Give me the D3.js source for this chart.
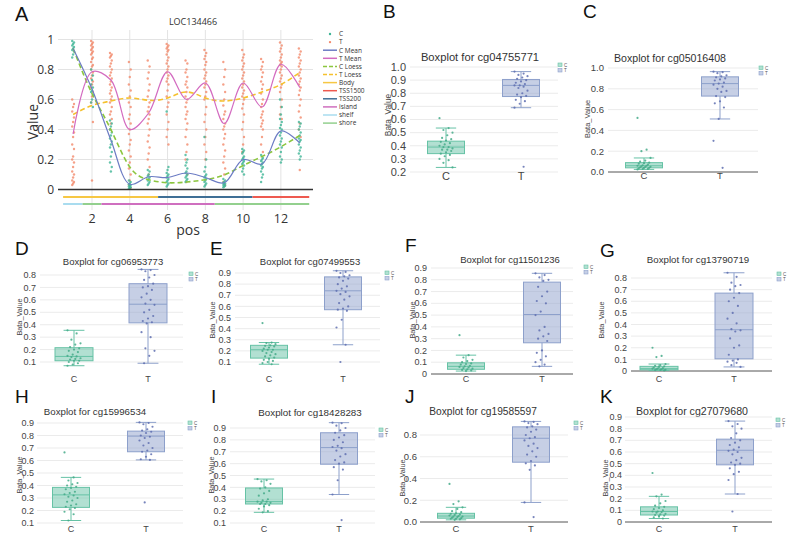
<!DOCTYPE html>
<html><head><meta charset="utf-8">
<script src="https://cdn.jsdelivr.net/npm/d3@7"></script>
<style>body{margin:0;background:#fff}svg{font-family:"Liberation Sans",Arial,sans-serif}</style>
</head><body><svg id="fig" width="800" height="538"></svg>
<script>
// ---------------- Panel A data ----------------
const positions = [1,2,3,4,5,6,7,8,9,10,11,12,13];
const cMean  = [0.94,0.67,0.33,0.035,0.085,0.08,0.11,0.08,0.045,0.2,0.17,0.39,0.31];
const tMean  = [0.37,0.785,0.73,0.40,0.51,0.785,0.60,0.71,0.44,0.71,0.55,0.835,0.68];
const cLoess = [0.94,0.64,0.40,0.15,0.065,0.045,0.05,0.065,0.097,0.16,0.22,0.285,0.36];
const tLoess = [0.50,0.56,0.59,0.61,0.595,0.61,0.65,0.61,0.59,0.61,0.65,0.70,0.78];
const tPointsA = [
 [0.6,0.57,0.55,0.52,0.48,0.45,0.42,0.38,0.35,0.3,0.27,0.22,0.2,0.18,0.15,0.12,0.1,0.08,0.06,0.05,0.04,0.03],
 [0.99,0.98,0.97,0.96,0.95,0.94,0.93,0.92,0.91,0.9,0.88,0.87,0.85,0.83,0.82,0.8,0.78,0.76,0.74,0.72,0.7,0.68,0.65,0.62,0.58,0.45,0.06],
 [0.91,0.9,0.89,0.88,0.86,0.84,0.82,0.8,0.78,0.76,0.74,0.72,0.7,0.68,0.66,0.64,0.62,0.6,0.58,0.55,0.52,0.5,0.47,0.44,0.4],
 [0.85,0.8,0.75,0.7,0.66,0.62,0.58,0.55,0.5,0.47,0.44,0.4,0.37,0.33,0.3,0.26,0.22,0.18,0.14,0.1,0.06,0.03,0.01],
 [0.86,0.82,0.78,0.74,0.7,0.66,0.62,0.58,0.55,0.52,0.5,0.47,0.44,0.4,0.36,0.32,0.28,0.24,0.2,0.15,0.1],
 [0.97,0.96,0.95,0.94,0.93,0.92,0.9,0.88,0.86,0.84,0.82,0.8,0.78,0.76,0.74,0.72,0.7,0.66,0.62,0.58,0.55,0.5,0.45,0.4,0.35,0.3],
 [0.86,0.84,0.8,0.78,0.75,0.72,0.7,0.68,0.65,0.62,0.6,0.58,0.55,0.52,0.5,0.47,0.44,0.4,0.35,0.3,0.25,0.2,0.1,0.05],
 [0.93,0.91,0.89,0.87,0.85,0.83,0.8,0.78,0.76,0.74,0.72,0.7,0.68,0.65,0.62,0.6,0.55,0.5,0.45,0.4,0.35,0.3,0.25,0.2],
 [0.85,0.8,0.75,0.7,0.65,0.6,0.56,0.52,0.5,0.47,0.44,0.42,0.4,0.37,0.34,0.3,0.26,0.22,0.18,0.14,0.1,0.05,0.03],
 [0.93,0.9,0.88,0.86,0.84,0.82,0.8,0.78,0.76,0.74,0.72,0.7,0.68,0.66,0.64,0.62,0.6,0.57,0.54,0.5,0.45,0.4,0.35,0.3,0.25],
 [0.87,0.85,0.82,0.8,0.78,0.75,0.72,0.7,0.67,0.64,0.6,0.57,0.55,0.52,0.5,0.48,0.46,0.44,0.42,0.4,0.35,0.3,0.25],
 [0.98,0.96,0.94,0.92,0.9,0.88,0.86,0.85,0.84,0.83,0.82,0.8,0.78,0.76,0.74,0.72,0.7,0.68,0.65,0.6,0.55,0.5,0.47],
 [0.94,0.92,0.9,0.88,0.86,0.84,0.82,0.8,0.78,0.76,0.74,0.72,0.7,0.68,0.66,0.63,0.6,0.56,0.52,0.48,0.44,0.4,0.35,0.13]
];
const cPointsA = [
 [0.99,0.98,0.97,0.96,0.95,0.94,0.93,0.92,0.9,0.88],
 [0.8,0.76,0.73,0.7,0.68,0.66,0.65,0.63,0.6,0.58,0.55],
 [0.46,0.44,0.42,0.4,0.38,0.36,0.34,0.32,0.3,0.28,0.25,0.22,0.18,0.15,0.12],
 [0.06,0.05,0.04,0.035,0.03,0.025,0.02,0.015,0.01,0.005],
 [0.13,0.12,0.1,0.09,0.08,0.07,0.06,0.05,0.04,0.03],
 [0.52,0.15,0.13,0.11,0.1,0.09,0.08,0.07,0.06,0.05,0.04,0.03,0.02],
 [0.23,0.2,0.18,0.16,0.14,0.12,0.11,0.1,0.09,0.08,0.07,0.06,0.05],
 [0.35,0.2,0.15,0.12,0.1,0.09,0.08,0.07,0.06,0.05,0.04,0.03,0.02],
 [0.07,0.06,0.05,0.045,0.04,0.035,0.03,0.025,0.02,0.015],
 [0.27,0.26,0.25,0.24,0.22,0.21,0.2,0.19,0.18,0.17,0.16,0.14,0.12,0.1],
 [0.23,0.21,0.2,0.19,0.18,0.17,0.16,0.15,0.14,0.12,0.1,0.08,0.05],
 [0.6,0.55,0.5,0.47,0.45,0.43,0.41,0.4,0.38,0.36,0.34,0.32,0.3,0.28,0.25,0.22,0.2,0.18],
 [0.45,0.44,0.42,0.4,0.38,0.36,0.34,0.33,0.32,0.3,0.28,0.26,0.24,0.22,0.2]
];
const geneRegions = [["Body",0.47,5.5],["TSS200",5.5,10.5],["TSS1500",10.5,13.5]];
const islandRegions = [["shelf",0.47,1.5],["shore",1.5,2.5],["island",2.5,8.5],["shore",8.5,13.5]];
const yTicksA = [0,0.2,0.4,0.6,0.8,1];
const xTicksA = [2,4,6,8,10,12];
const legendA = ["C","T","C Mean","T Mean","C Loess","T Loess","Body","TSS1500","TSS200","island","shelf","shore"];

// ---------------- Box plot data ----------------
const boxLetters = ["B","C","D","E","F","G","H","I","J","K"];
const boxProbes = ["cg04755771","cg05016408","cg06953773","cg07499553","cg11501236","cg13790719","cg15996534","cg18428283","cg19585597","cg27079680"];
const groups = ["C","T"];
// [whisker low, q1, median, q3, whisker high]
const cStats = [[0.235,0.34,0.39,0.435,0.535],[0.025,0.04,0.06,0.09,0.135],[0.07,0.11,0.145,0.215,0.355],[0.08,0.135,0.21,0.25,0.275],[0.025,0.04,0.065,0.095,0.16],[0.005,0.01,0.02,0.04,0.06],[0.12,0.225,0.325,0.385,0.465],[0.19,0.26,0.28,0.395,0.47],[0.02,0.035,0.055,0.08,0.135],[0.03,0.06,0.09,0.13,0.22]];
const tStats = [[0.69,0.775,0.86,0.905,0.965],[0.51,0.73,0.85,0.915,0.965],[0.09,0.415,0.565,0.73,0.845],[0.255,0.57,0.74,0.865,0.92],[0.065,0.265,0.505,0.78,0.855],[0.035,0.105,0.355,0.67,0.845],[0.605,0.67,0.795,0.835,0.905],[0.34,0.595,0.735,0.86,0.945],[0.18,0.55,0.77,0.875,0.925],[0.24,0.49,0.615,0.71,0.865]];
const cPoints = [
 [0.61,0.535,0.52,0.5,0.48,0.46,0.45,0.44,0.43,0.42,0.41,0.40,0.39,0.39,0.38,0.37,0.37,0.36,0.35,0.34,0.33,0.32,0.30,0.29,0.27,0.235],
 [0.52,0.215,0.2,0.135,0.11,0.1,0.09,0.085,0.08,0.07,0.065,0.06,0.06,0.055,0.05,0.05,0.045,0.04,0.04,0.035,0.03,0.03,0.025],
 [0.355,0.33,0.28,0.25,0.24,0.22,0.21,0.2,0.19,0.18,0.16,0.15,0.145,0.14,0.13,0.125,0.12,0.11,0.11,0.1,0.09,0.08,0.07],
 [0.45,0.275,0.27,0.26,0.25,0.245,0.24,0.23,0.22,0.21,0.21,0.2,0.19,0.18,0.17,0.16,0.15,0.14,0.13,0.12,0.11,0.1,0.09,0.08],
 [0.33,0.16,0.14,0.12,0.11,0.1,0.09,0.085,0.08,0.07,0.065,0.06,0.055,0.05,0.045,0.04,0.035,0.03,0.025],
 [0.2,0.13,0.12,0.06,0.05,0.045,0.04,0.035,0.03,0.025,0.02,0.02,0.015,0.015,0.01,0.01,0.008,0.005],
 [0.665,0.465,0.44,0.42,0.41,0.4,0.39,0.38,0.37,0.35,0.34,0.33,0.32,0.31,0.3,0.28,0.27,0.25,0.24,0.23,0.22,0.21,0.19,0.17,0.12],
 [0.47,0.46,0.45,0.43,0.4,0.39,0.37,0.35,0.33,0.3,0.29,0.28,0.28,0.27,0.27,0.26,0.26,0.25,0.24,0.22,0.2,0.19],
 [0.35,0.19,0.165,0.135,0.12,0.1,0.09,0.08,0.075,0.07,0.065,0.06,0.055,0.05,0.05,0.045,0.04,0.035,0.03,0.03,0.025,0.02],
 [0.42,0.235,0.22,0.18,0.16,0.14,0.13,0.12,0.11,0.1,0.09,0.09,0.085,0.08,0.07,0.065,0.06,0.055,0.05,0.04,0.03]
];
const tPoints = [
 [0.965,0.95,0.94,0.93,0.92,0.91,0.90,0.89,0.88,0.87,0.86,0.86,0.85,0.84,0.82,0.80,0.79,0.78,0.77,0.75,0.74,0.72,0.69,0.24],
 [0.965,0.96,0.95,0.93,0.92,0.91,0.9,0.89,0.88,0.86,0.85,0.84,0.82,0.8,0.78,0.77,0.73,0.72,0.68,0.66,0.62,0.51,0.3,0.04],
 [0.845,0.84,0.83,0.8,0.78,0.76,0.73,0.71,0.7,0.68,0.65,0.62,0.6,0.57,0.56,0.52,0.5,0.47,0.45,0.43,0.42,0.41,0.34,0.3,0.21,0.19,0.15,0.09],
 [0.92,0.91,0.9,0.88,0.87,0.86,0.85,0.83,0.8,0.78,0.76,0.74,0.73,0.71,0.69,0.66,0.63,0.6,0.58,0.57,0.56,0.48,0.41,0.255,0.1],
 [0.855,0.84,0.82,0.8,0.79,0.74,0.7,0.66,0.62,0.6,0.53,0.5,0.4,0.37,0.34,0.32,0.3,0.28,0.2,0.18,0.15,0.12,0.1,0.08,0.065],
 [0.845,0.81,0.76,0.74,0.73,0.7,0.67,0.63,0.6,0.56,0.5,0.45,0.41,0.36,0.35,0.34,0.28,0.22,0.2,0.14,0.1,0.09,0.08,0.07,0.05,0.035],
 [0.905,0.9,0.89,0.87,0.85,0.84,0.83,0.82,0.8,0.79,0.78,0.76,0.74,0.72,0.7,0.68,0.67,0.65,0.63,0.61,0.605,0.265],
 [0.945,0.94,0.92,0.9,0.88,0.86,0.84,0.82,0.8,0.78,0.75,0.74,0.73,0.71,0.68,0.66,0.63,0.61,0.6,0.57,0.55,0.46,0.34,0.125],
 [0.925,0.92,0.91,0.9,0.88,0.87,0.85,0.83,0.8,0.78,0.77,0.75,0.72,0.7,0.68,0.65,0.62,0.6,0.56,0.54,0.52,0.48,0.18,0.045],
 [0.865,0.84,0.82,0.8,0.76,0.72,0.7,0.68,0.66,0.64,0.62,0.61,0.6,0.58,0.55,0.53,0.51,0.5,0.49,0.46,0.43,0.41,0.36,0.24,0.09]
];
const boxTicks = [
 ["1.0","0.9","0.8","0.7","0.6","0.5","0.4","0.3","0.2"],
 ["1.0","0.8","0.6","0.4","0.2","0.0"],
 ["0.8","0.7","0.6","0.5","0.4","0.3","0.2","0.1"],
 ["0.9","0.8","0.7","0.6","0.5","0.4","0.3","0.2","0.1"],
 ["0.9","0.8","0.7","0.6","0.5","0.4","0.3","0.2","0.1","0"],
 ["0.8","0.7","0.6","0.5","0.4","0.3","0.2","0.1","0"],
 ["0.9","0.8","0.7","0.6","0.5","0.4","0.3","0.2","0.1"],
 ["0.9","0.8","0.7","0.6","0.5","0.4","0.3","0.2","0.1"],
 ["0.8","0.6","0.4","0.2","0.0"],
 ["0.9","0.8","0.7","0.6","0.5","0.4","0.3","0.2","0.1","0"]
];

// ---------------- Layout (pixels) ----------------
const boxLayout = [
 {lx:383,ly:18,x0:410,x1:558,vA:1.0,pA:67,vB:0.2,pB:172,cx:446,tx:521,bw:37,tcx:480,ty:61,tfs:11.2,ylx:388,yly:115,ylfs:8.3,catY:180,legX:558,legY:63,tickFs:11,tickR:406},
 {lx:583,ly:18,x0:608,x1:758,vA:1.0,pA:68,vB:0,pB:172,cx:644,tx:720,bw:37,tcx:670,ty:62,tfs:10.6,ylx:587,yly:119,ylfs:7.5,catY:179,legX:759,legY:66,tickFs:9.5,tickR:604},
 {lx:15,ly:255,x0:40,x1:183,vA:0.8,pA:275,vB:0.1,pB:362,cx:74,tx:148,bw:38,tcx:113,ty:265,tfs:9.5,ylx:19,yly:317,ylfs:7.3,catY:382,legX:189,legY:272,tickFs:9,tickR:36},
 {lx:210,ly:255,x0:235,x1:380,vA:0.9,pA:273,vB:0.1,pB:362,cx:269,tx:343,bw:37,tcx:310,ty:265,tfs:9.5,ylx:212,yly:320,ylfs:7.3,catY:382,legX:385,legY:271,tickFs:9,tickR:231},
 {lx:405,ly:252,x0:431,x1:573,vA:0.9,pA:268,vB:0,pB:374,cx:466,tx:542,bw:37,tcx:510,ty:263,tfs:9.5,ylx:412,yly:320,ylfs:7.3,catY:382,legX:584,legY:265,tickFs:9,tickR:427},
 {lx:600,ly:257,x0:631,x1:772,vA:0.8,pA:278,vB:0,pB:371,cx:659,tx:734,bw:38,tcx:698,ty:263,tfs:9.7,ylx:601,yly:320,ylfs:7.3,catY:382,legX:777,legY:272,tickFs:9,tickR:627},
 {lx:15,ly:403,x0:37,x1:183,vA:0.9,pA:423,vB:0.1,pB:523,cx:71,tx:146,bw:37,tcx:95,ty:415,tfs:9.7,ylx:19,yly:475,ylfs:7.3,catY:532,legX:188,legY:421,tickFs:9,tickR:34},
 {lx:211,ly:403,x0:230,x1:375,vA:0.9,pA:428,vB:0.1,pB:523,cx:264,tx:339,bw:37,tcx:310,ty:416,tfs:9.8,ylx:211,yly:475,ylfs:7.3,catY:532,legX:379,legY:428,tickFs:9,tickR:226},
 {lx:405,ly:403,x0:420,x1:568,vA:0.8,pA:435,vB:0,pB:522,cx:456,tx:531,bw:37,tcx:483,ty:415,tfs:10.2,ylx:402,yly:478,ylfs:7.3,catY:532,legX:574,legY:421,tickFs:9.5,tickR:417},
 {lx:600,ly:403,x0:625,x1:772,vA:0.9,pA:417,vB:0,pB:522,cx:659,tx:735,bw:37,tcx:692,ty:415,tfs:10.6,ylx:605,yly:478,ylfs:7.3,catY:532,legX:776,legY:418,tickFs:9,tickR:622}
];

const svg = d3.select("#fig");

// ================= Panel A =================
(function(){
  const g = svg.append("g");
  const x = d3.scaleLinear().domain([0.2,13.7]).range([58,313]);
  const y = d3.scaleLinear().domain([0,1]).range([189.5,39.5]);
  const hum = "'Open Sans','Liberation Sans',sans-serif";
  g.append("text").attr("x",15).attr("y",21).attr("font-size",20).attr("fill","#111").text("A");
  g.append("text").attr("x",193).attr("y",25).attr("text-anchor","middle").attr("font-size",9).attr("font-family",hum).attr("fill","#333").text("LOC134466");
  g.selectAll(".gy").data(yTicksA.slice(1)).join("line")
    .attr("x1",58).attr("x2",313).attr("y1",d=>y(d)).attr("y2",d=>y(d)).attr("stroke","#e3e3e3").attr("stroke-width",1);
  g.selectAll(".gx").data(xTicksA).join("line")
    .attr("x1",d=>x(d)).attr("x2",d=>x(d)).attr("y1",30).attr("y2",210).attr("stroke","#e3e3e3").attr("stroke-width",1);
  g.selectAll(".yt").data(yTicksA).join("text")
    .attr("x",54).attr("y",d=>y(d)+4.5).attr("text-anchor","end").attr("font-size",12).attr("font-family",hum).attr("fill","#333")
    .text(d=>d3.format("~g")(d));
  g.selectAll(".xt").data(xTicksA).join("text")
    .attr("x",d=>x(d)).attr("y",223).attr("text-anchor","middle").attr("font-size",12.5).attr("font-family",hum).attr("fill","#333").text(d=>d);
  g.append("text").attr("x",188).attr("y",235).attr("text-anchor","middle").attr("font-size",14).attr("font-family",hum).attr("fill","#333").text("pos");
  g.append("text").attr("transform","translate(38,122) rotate(-90)").attr("text-anchor","middle").attr("font-size",14).attr("font-family",hum).attr("fill","#333").text("Value");
  const tCol="#f28a6c", cCol="#3fb596";
  positions.forEach((p,i)=>{
    g.selectAll(null).data(tPointsA[i]).join("circle").attr("cx",(d,j)=>x(p)+((j*5)%3-1)*0.9).attr("cy",d=>y(d)).attr("r",1.2).attr("fill",tCol).attr("opacity",0.8);
    g.selectAll(null).data(cPointsA[i]).join("circle").attr("cx",(d,j)=>x(p)+((j*5)%3-1)*0.9).attr("cy",d=>y(d)).attr("r",1.2).attr("fill",cCol).attr("opacity",0.8);
  });
  g.append("line").attr("x1",58).attr("x2",313).attr("y1",y(0)).attr("y2",y(0)).attr("stroke","#333").attr("stroke-width",1.6);
  const mk = (arr,curve)=>d3.line().x((d,i)=>x(positions[i])).y(d=>y(d)).curve(curve)(arr);
  g.append("path").attr("d",mk(cLoess,d3.curveNatural)).attr("fill","none").attr("stroke","#8cc63f").attr("stroke-width",1.6).attr("stroke-dasharray","5,3");
  g.append("path").attr("d",mk(tLoess,d3.curveNatural)).attr("fill","none").attr("stroke","#f5c12e").attr("stroke-width",1.6).attr("stroke-dasharray","5,3");
  g.append("path").attr("d",mk(cMean,d3.curveCatmullRom.alpha(0.5))).attr("fill","none").attr("stroke","#6c7cc4").attr("stroke-width",1.2);
  g.append("path").attr("d",mk(tMean,d3.curveCatmullRom.alpha(0.5))).attr("fill","none").attr("stroke","#d36bc0").attr("stroke-width",1.2);
  const regCol = {Body:"#f6c744",TSS200:"#3f6f96",TSS1500:"#ee5a50",island:"#cf6fbf",shelf:"#a9dcef",shore:"#93d08e"};
  g.selectAll(".r1").data(geneRegions).join("line").attr("x1",d=>x(d[1])).attr("x2",d=>x(d[2])).attr("y1",197).attr("y2",197).attr("stroke",d=>regCol[d[0]]).attr("stroke-width",2);
  g.selectAll(".r2").data(islandRegions).join("line").attr("x1",d=>x(d[1])).attr("x2",d=>x(d[2])).attr("y1",204).attr("y2",204).attr("stroke",d=>regCol[d[0]]).attr("stroke-width",2);
  const lg = g.append("g");
  legendA.forEach((name,i)=>{
    const yy = 34 + i*8.1;
    if(i<2){
      lg.append("circle").attr("cx",330).attr("cy",yy).attr("r",1.2).attr("fill",i==0?cCol:tCol);
    } else {
      const cols = {"C Mean":"#6c7cc4","T Mean":"#d36bc0","C Loess":"#8cc63f","T Loess":"#f5c12e"};
      const c = cols[name] || regCol[name];
      lg.append("line").attr("x1",323).attr("x2",337).attr("y1",yy).attr("y2",yy).attr("stroke",c).attr("stroke-width",1.5)
        .attr("stroke-dasharray",name.indexOf("Loess")>0?"4,2":null);
    }
    lg.append("text").attr("x",339).attr("y",yy+2.3).attr("font-size",6.5).attr("font-family",hum).attr("fill","#333").text(name);
  });
})();

// ================= Box panels =================
const boxColors = {C:{line:"#66c2a5",fill:"rgba(102,194,165,0.5)",pt:"#44aa88"},T:{line:"#8da0cb",fill:"rgba(141,160,203,0.5)",pt:"#5f6fb0"}};
boxLayout.forEach((L,k)=>{
  const g = svg.append("g");
  const y = d3.scaleLinear().domain([L.vB,L.vA]).range([L.pB,L.pA]);
  const ticks = boxTicks[k];
  g.append("text").attr("x",L.lx).attr("y",L.ly).attr("font-size",19).attr("fill","#111").text(boxLetters[k]);
  g.append("text").attr("x",L.tcx).attr("y",L.ty).attr("text-anchor","middle").attr("font-size",L.tfs).attr("fill","#333").text("Boxplot for "+boxProbes[k]);
  g.selectAll(".grid").data(ticks).join("line")
    .attr("x1",L.x0).attr("x2",L.x1).attr("y1",d=>y(+d)).attr("y2",d=>y(+d))
    .attr("stroke",d=>+d===0?"#555":"#e6e6e6").attr("stroke-width",d=>+d===0?1:0.8);
  g.selectAll(".tl").data(ticks).join("text")
    .attr("x",L.tickR).attr("y",d=>y(+d)+L.tickFs*0.35).attr("text-anchor","end").attr("font-size",L.tickFs).attr("fill","#444").text(d=>d);
  g.append("text").attr("transform",`translate(${L.ylx+L.ylfs*0.35},${L.yly}) rotate(-90)`).attr("text-anchor","middle").attr("font-size",L.ylfs).attr("fill","#444").text("Bata_Value");
  [["C",cStats[k],cPoints[k],L.cx],["T",tStats[k],tPoints[k],L.tx]].forEach(([grp,st,pts,cx])=>{
    const col = boxColors[grp];
    const [lo,q1,med,q3,hi] = st;
    const cw = L.bw*0.55;
    g.append("line").attr("x1",cx).attr("x2",cx).attr("y1",y(lo)).attr("y2",y(q1)).attr("stroke",col.line).attr("stroke-width",1);
    g.append("line").attr("x1",cx).attr("x2",cx).attr("y1",y(q3)).attr("y2",y(hi)).attr("stroke",col.line).attr("stroke-width",1);
    g.append("line").attr("x1",cx-cw/2).attr("x2",cx+cw/2).attr("y1",y(lo)).attr("y2",y(lo)).attr("stroke",col.line).attr("stroke-width",1);
    g.append("line").attr("x1",cx-cw/2).attr("x2",cx+cw/2).attr("y1",y(hi)).attr("y2",y(hi)).attr("stroke",col.line).attr("stroke-width",1);
    g.append("rect").attr("x",cx-L.bw/2).attr("width",L.bw).attr("y",y(q3)).attr("height",y(q1)-y(q3)).attr("fill",col.fill).attr("stroke",col.line).attr("stroke-width",1);
    g.append("line").attr("x1",cx-L.bw/2).attr("x2",cx+L.bw/2).attr("y1",y(med)).attr("y2",y(med)).attr("stroke",col.line).attr("stroke-width",1);
    g.selectAll(null).data(pts).join("circle")
      .attr("cx",(d,i)=>cx + (((i*7)%11)/10 - 0.5)*13).attr("cy",d=>y(d)).attr("r",1.1).attr("fill",col.pt).attr("opacity",0.85);
    g.append("text").attr("x",cx).attr("y",L.catY).attr("text-anchor","middle").attr("font-size",L.tickFs).attr("fill","#444").text(grp);
  });
  groups.forEach((grp,j)=>{
    const col = boxColors[grp];
    g.append("rect").attr("x",L.legX).attr("y",L.legY+j*5.5).attr("width",4).attr("height",3.5).attr("fill",col.fill).attr("stroke",col.line).attr("stroke-width",0.6);
    g.append("text").attr("x",L.legX+6).attr("y",L.legY+j*5.5+3.5).attr("font-size",4.5).attr("fill","#555").text(grp);
  });
});
</script></body></html>
